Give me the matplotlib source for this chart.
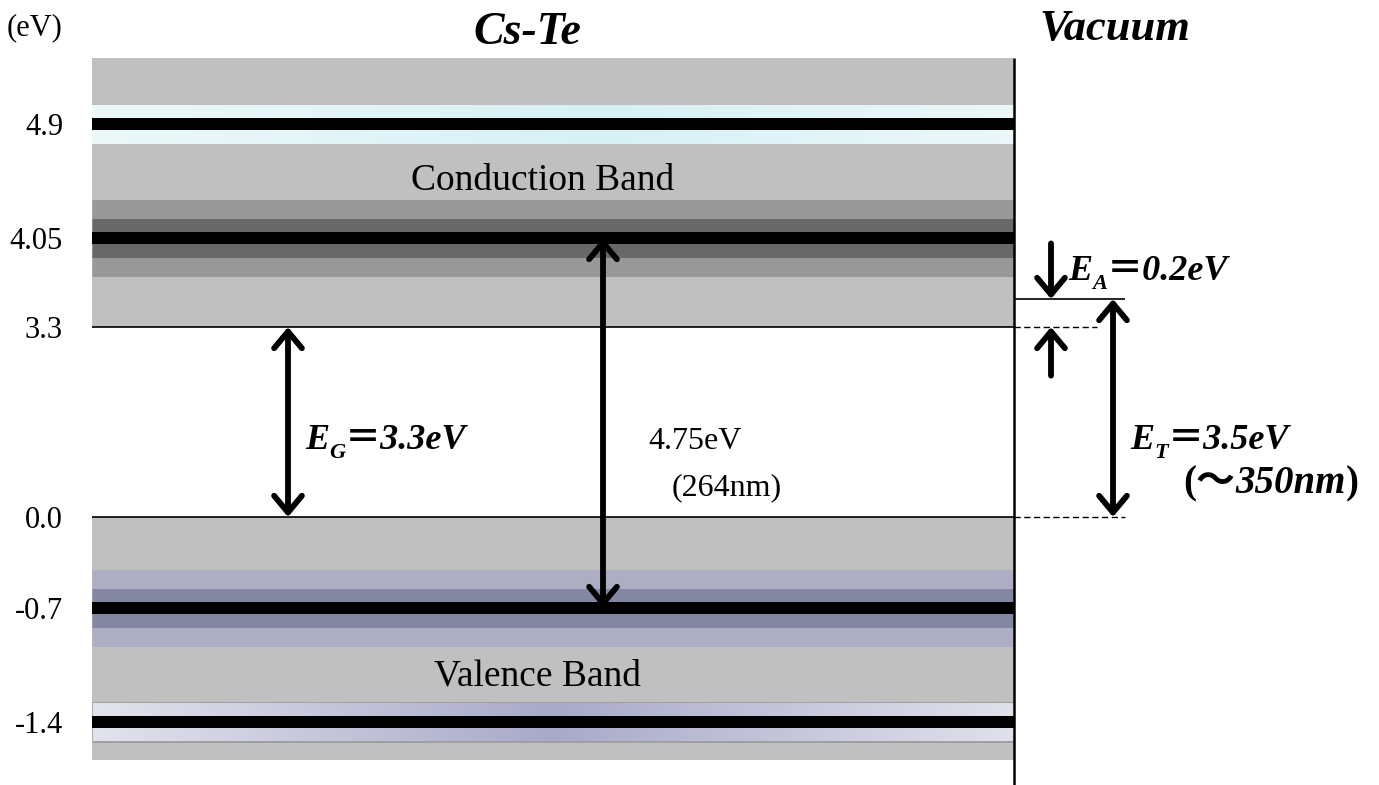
import matplotlib
matplotlib.use('Agg')
import matplotlib.pyplot as plt
import matplotlib.transforms as mtransforms
import numpy as np
from matplotlib.collections import LineCollection
from matplotlib.colors import LinearSegmentedColormap

# --- Band structure data (eV) ---
LEVEL_EV = [4.9, 4.05, 3.3, 0.0, -0.7, -1.4]
LEVEL_LABELS = ['4.9', '4.05', '3.3', '0.0', '-0.7', '-1.4']
CB_MIN = 3.3        # conduction band bottom
VB_MAX = 0.0        # valence band top
VAC_LEVEL = 3.5     # vacuum level
DIRECT_TOP = 4.05
DIRECT_BOTTOM = -0.7
DIRECT_NM = 264
THRESHOLD_NM = 350

# --- Layout (pixels, y from top) ---
W, H = 1379, 785
AXIS_EV = [-1.4, -0.7, 0.0, 3.3, 3.5, 4.05, 4.9]
AXIS_PX = [722, 608, 517, 327, 299, 238, 124]
PANEL_X0, PANEL_X1 = 92, 1014
PANEL_TOP, PANEL_BOTTOM = 58, 760

SERIF = 'Liberation Serif'
CJK = 'Noto Sans CJK JP'
GRAY = '#c0c0c0'
PT = 0.72  # points per pixel at 100 dpi

plt.rcParams['font.family'] = [SERIF, CJK]

_ev = np.array(AXIS_EV, float)
_ht = H - np.array(AXIS_PX, float)
_s_lo = (_ht[1] - _ht[0]) / (_ev[1] - _ev[0])
_s_hi = (_ht[-1] - _ht[-2]) / (_ev[-1] - _ev[-2])


def to_height(e):
    """Schematic (piecewise linear) energy axis."""
    e = np.asarray(e, float)
    h = np.interp(e, _ev, _ht)
    h = np.where(e < _ev[0], _ht[0] + (e - _ev[0]) * _s_lo, h)
    h = np.where(e > _ev[-1], _ht[-1] + (e - _ev[-1]) * _s_hi, h)
    return h


def to_energy(h):
    h = np.asarray(h, float)
    e = np.interp(h, _ht, _ev)
    e = np.where(h < _ht[0], _ev[0] + (h - _ht[0]) / _s_lo, e)
    e = np.where(h > _ht[-1], _ev[-1] + (h - _ht[-1]) / _s_hi, e)
    return e


def px_ev(y):
    return float(to_energy(H - y))


fig = plt.figure(figsize=(W / 100, H / 100), dpi=100)
ax = fig.add_axes([PANEL_X0 / W, 0, 1 - PANEL_X0 / W, 1])
ax.set_yscale('function', functions=(to_height, to_energy))
ax.set_frame_on(False)
pix = mtransforms.Affine2D().scale(1, -1).translate(0, H)

# band regions
ax.fill_between([PANEL_X0, PANEL_X1], CB_MIN, px_ev(PANEL_TOP),
                color=GRAY, lw=0)
ax.fill_between([PANEL_X0, PANEL_X1], px_ev(PANEL_BOTTOM), VB_MAX,
                color=GRAY, lw=0)


def band(e, width_px, color, x0=PANEL_X0, x1=PANEL_X1):
    ax.hlines(e, x0, x1, colors=color, lw=width_px * PT, capstyle='butt')


def gradient_band(e, width_px, cmap, x0=PANEL_X0, x1=PANEL_X1, n=300):
    xs = np.linspace(x0, x1, n + 1)
    segs = [[(xs[i], e), (xs[i + 1] + 0.5, e)] for i in range(n)]
    lc = LineCollection(segs, colors=cmap(np.linspace(0, 1, n)),
                        lw=width_px * PT, capstyle='butt', antialiased=False)
    ax.add_collection(lc)


cyan = LinearSegmentedColormap.from_list(
    'cyan', [(0, '#ecf8f8'), (0.55, '#d6f0f4'), (1, '#ebf7f8')])
violet = LinearSegmentedColormap.from_list(
    'violet', [(0, '#e2e2ec'), (0.5, '#a8a9c8'), (1, '#e0e0eb')])

# 4.9 eV
gradient_band(LEVEL_EV[0], 39, cyan)
band(LEVEL_EV[0], 12, 'black')
# 4.05 eV
band(LEVEL_EV[1], 77, '#989898')
band(LEVEL_EV[1], 39, '#686868')
band(LEVEL_EV[1], 12, 'black')
# -0.7 eV
band(LEVEL_EV[4], 77, '#adaec3')
band(LEVEL_EV[4], 39, '#8387a1')
band(LEVEL_EV[4], 12, 'black')
# -1.4 eV
band(LEVEL_EV[5], 41, '#a0a0a0')
gradient_band(LEVEL_EV[5], 38, violet, x0=PANEL_X0 + 1, x1=PANEL_X1 - 1)
band(LEVEL_EV[5], 12, 'black')

# band edges and vacuum level
ax.hlines([CB_MIN, VB_MAX], PANEL_X0, PANEL_X1, colors='black', lw=1.2)
ax.hlines(CB_MIN, PANEL_X1, 1097, colors='black', lw=1.0,
          linestyles=(0, (4.5, 2.5)))
ax.hlines(VB_MAX, PANEL_X1, 1125, colors='black', lw=1.0,
          linestyles=(0, (4.5, 2.5)))
ax.hlines(VAC_LEVEL, PANEL_X1, 1125, colors='black', lw=1.2)
ax.vlines(PANEL_X1, px_ev(H), px_ev(PANEL_TOP), colors='black', lw=1.8)

head = '<->,head_length=0.6,head_width=0.5'
arrow_kw = dict(color='black', lw=4.2, shrinkA=0, shrinkB=0,
                mutation_scale=20, capstyle='round', joinstyle='round')


def double_arrow(x, e0, e1):
    ax.annotate('', xy=(x, e1), xytext=(x, e0),
                arrowprops=dict(arrowstyle=head, **arrow_kw))


double_arrow(288, VB_MAX, CB_MIN)
double_arrow(603, DIRECT_BOTTOM, DIRECT_TOP)
double_arrow(1113, VB_MAX, VAC_LEVEL)

single = '->,head_length=0.6,head_width=0.5'
ax.annotate('', xy=(1051, VAC_LEVEL), xytext=(0, 40),
            textcoords='offset points',
            arrowprops=dict(arrowstyle=single, **arrow_kw))
ax.annotate('', xy=(1051, CB_MIN), xytext=(0, -35),
            textcoords='offset points',
            arrowprops=dict(arrowstyle=single, **arrow_kw))

ax.set_xlim(PANEL_X0, W)
ax.set_ylim(px_ev(H), px_ev(0))
ax.set_xticks([])
ax.set_yticks(LEVEL_EV, LEVEL_LABELS)
ax.tick_params(axis='y', length=0, pad=(PANEL_X0 - 63) * PT, labelsize=22)

# --- text ---
renderer = fig.canvas.get_renderer()


def runs(x, y, parts):
    """Write text pieces one after another on a shared baseline."""
    for text, kw in parts:
        kw = dict(kw)
        dy = kw.pop('dy', 0)
        t = fig.text(x, y + dy, text, transform=pix, ha='left',
                     va='baseline', **kw)
        x = t.get_window_extent(renderer).x1


def sub_label(x, y, sym, sub, rest, size):
    bi = dict(fontweight='bold', fontstyle='italic')
    runs(x, y, [(sym, dict(size=size, **bi)),
                (sub, dict(size=size * 0.62, dy=size * 0.33, **bi)),
                (rest, dict(size=size, **bi))])


fig.text(35, 28, '(eV)', transform=pix, ha='center', va='center', size=22)
fig.text(527, 44, 'Cs-Te', transform=pix, ha='center', va='baseline',
         size=33, fontweight='bold', fontstyle='italic')
fig.text(1115, 40, 'Vacuum', transform=pix, ha='center', va='baseline',
         size=32, fontweight='bold', fontstyle='italic')
fig.text(543, 190, 'Conduction Band', transform=pix, ha='center',
         va='baseline', size=27)
fig.text(537, 686, 'Valence Band', transform=pix, ha='center',
         va='baseline', size=27)

sub_label(305, 449, 'E', 'G', f'＝{CB_MIN - VB_MAX:.1f}eV', 26)
sub_label(1068, 280, 'E', 'A', f'＝{VAC_LEVEL - CB_MIN:.1f}eV', 26)
sub_label(1130, 449, 'E', 'T', f'＝{VAC_LEVEL - VB_MAX:.1f}eV', 26)

fig.text(648, 449, f'{DIRECT_TOP - DIRECT_BOTTOM:.2f}eV', transform=pix,
         ha='left', va='baseline', size=23)
fig.text(672, 495, f'({DIRECT_NM}nm)', transform=pix, ha='left',
         va='baseline', size=23)

runs(1183, 493, [('(', dict(size=28, fontweight='bold')),
                 ('～', dict(size=28, fontweight='bold', family=CJK)),
                 (f'{THRESHOLD_NM}nm', dict(size=28, fontweight='bold',
                                            fontstyle='italic')),
                 (')', dict(size=28, fontweight='bold'))])

fig.savefig('out.png', dpi=100)
